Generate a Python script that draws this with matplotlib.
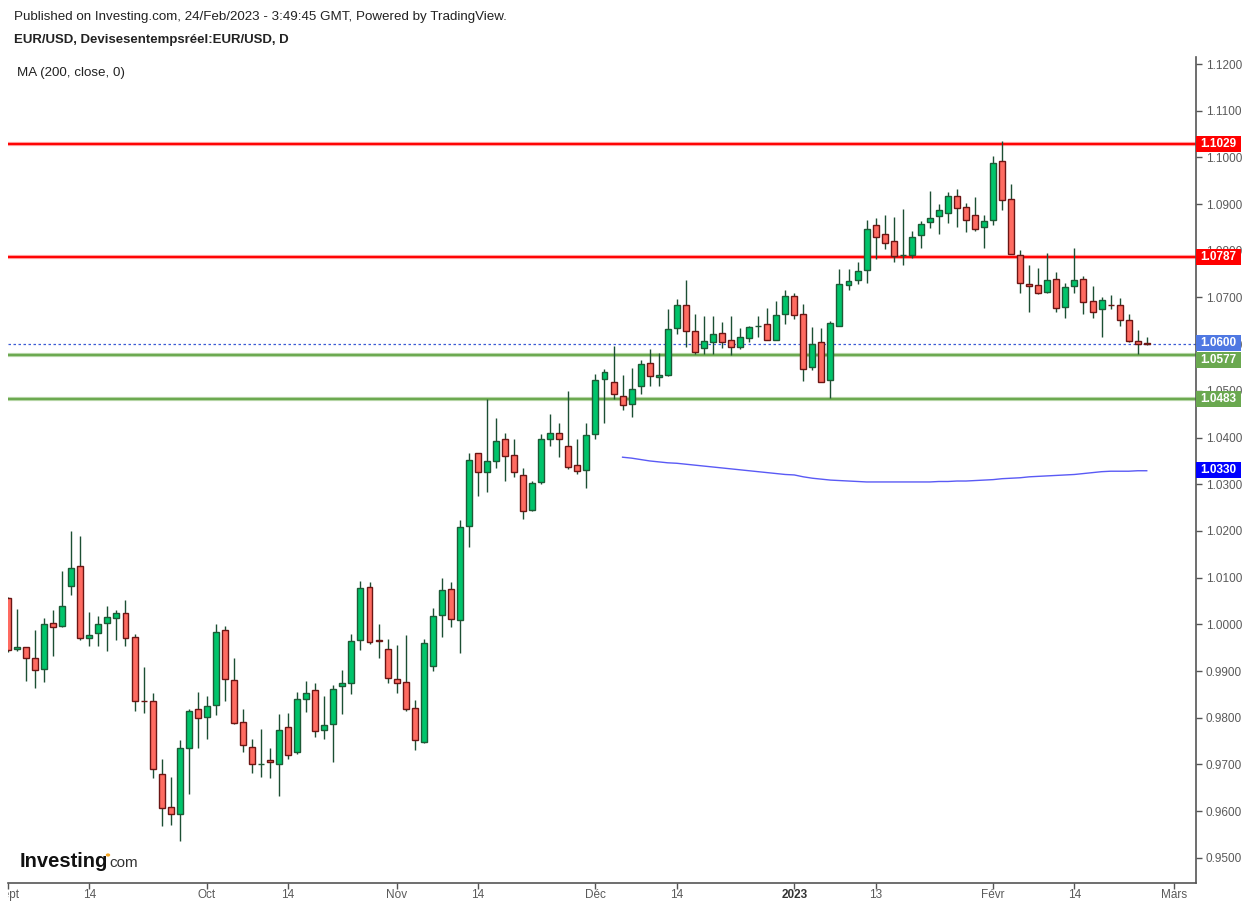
import numpy as np
import pandas as pd
import matplotlib
matplotlib.use("Agg")
import matplotlib.pyplot as plt
from matplotlib.patches import Rectangle, Circle
from matplotlib.transforms import Bbox, TransformedBbox, blended_transform_factory

plt.rcParams["font.family"] = ["Liberation Sans", "DejaVu Sans"]

# daily EUR/USD candles, 1 Sep 2022 .. 24 Feb 2023
opens = [1.0056, 0.9947, 0.9951, 0.9927, 0.9904, 1.0002, 0.9996, 1.0082, 1.0124, 0.9970,
         0.9981, 1.0002, 1.0013, 1.0024, 0.9972, 0.9837, 0.9837, 0.9679, 0.9610, 0.9595,
         0.9735, 0.9818, 0.9801, 0.9827, 0.9987, 0.9880, 0.9790, 0.9737, 0.9700, 0.9709,
         0.9702, 0.9780, 0.9726, 0.9840, 0.9859, 0.9773, 0.9786, 0.9867, 0.9874, 0.9966,
         1.0079, 0.9966, 0.9947, 0.9882, 0.9876, 0.9820, 0.9749, 0.9910, 1.0021, 1.0075,
         1.0009, 1.0210, 1.0366, 1.0326, 1.0349, 1.0396, 1.0362, 1.0319, 1.0244, 1.0304,
         1.0398, 1.0409, 1.0383, 1.0341, 1.0330, 1.0407, 1.0525, 1.0518, 1.0490, 1.0471,
         1.0510, 1.0559, 1.0529, 1.0535, 1.0634, 1.0683, 1.0628, 1.0591, 1.0604, 1.0625,
         1.0608, 1.0595, 1.0613, 1.0638, 1.0643, 1.0610, 1.0664, 1.0703, 1.0664, 1.0552,
         1.0604, 1.0523, 1.0638, 1.0726, 1.0737, 1.0758, 1.0855, 1.0835, 1.0822, 1.0790,
         1.0790, 1.0833, 1.0861, 1.0874, 1.0882, 1.0917, 1.0893, 1.0876, 1.0850, 1.0865,
         1.0992, 1.0910, 1.0790, 1.0728, 1.0726, 1.0711, 1.0739, 1.0679, 1.0724, 1.0739,
         1.0692, 1.0675, 1.0685, 1.0683, 1.0651, 1.0606, 1.0602]
highs = [1.0058, 1.0034, 0.9952, 0.9988, 1.0014, 1.0031, 1.0114, 1.0200, 1.0189, 1.0027,
         1.0019, 1.0039, 1.0031, 1.0052, 0.9979, 0.9909, 0.9853, 0.9712, 0.9673, 0.9752,
         0.9819, 0.9855, 0.9846, 1.0001, 0.9997, 0.9927, 0.9819, 0.9754, 0.9776, 0.9735,
         0.9808, 0.9810, 0.9855, 0.9879, 0.9875, 0.9846, 0.9870, 0.9902, 0.9979, 1.0093,
         1.0090, 1.0001, 0.9969, 0.9956, 0.9977, 0.9839, 0.9968, 1.0036, 1.0099, 1.0090,
         1.0223, 1.0366, 1.0368, 1.0483, 1.0442, 1.0410, 1.0396, 1.0334, 1.0308, 1.0407,
         1.0451, 1.0431, 1.0499, 1.0396, 1.0431, 1.0536, 1.0547, 1.0596, 1.0534, 1.0550,
         1.0566, 1.0590, 1.0581, 1.0675, 1.0697, 1.0737, 1.0665, 1.0660, 1.0660, 1.0648,
         1.0660, 1.0635, 1.0638, 1.0660, 1.0678, 1.0693, 1.0716, 1.0710, 1.0686, 1.0636,
         1.0634, 1.0649, 1.0762, 1.0760, 1.0777, 1.0867, 1.0870, 1.0876, 1.0872, 1.0889,
         1.0842, 1.0863, 1.0929, 1.0900, 1.0925, 1.0932, 1.0902, 1.0915, 1.0876, 1.1003,
         1.1035, 1.0943, 1.0802, 1.0770, 1.0763, 1.0795, 1.0754, 1.0730, 1.0806, 1.0746,
         1.0724, 1.0700, 1.0705, 1.0698, 1.0664, 1.0630, 1.0615]
lows = [0.9940, 0.9944, 0.9879, 0.9864, 0.9877, 0.9933, 0.9995, 1.0062, 0.9967, 0.9954,
        0.9954, 0.9943, 0.9967, 0.9954, 0.9815, 0.9811, 0.9670, 0.9569, 0.9571, 0.9537,
        0.9637, 0.9736, 0.9755, 0.9807, 0.9837, 0.9787, 0.9727, 0.9682, 0.9674, 0.9670,
        0.9633, 0.9711, 0.9722, 0.9813, 0.9758, 0.9755, 0.9706, 0.9809, 0.9850, 0.9946,
        0.9959, 0.9929, 0.9874, 0.9854, 0.9815, 0.9732, 0.9745, 0.9901, 0.9974, 0.9995,
        0.9938, 1.0165, 1.0274, 1.0283, 1.0334, 1.0306, 1.0315, 1.0225, 1.0242, 1.0300,
        1.0383, 1.0358, 1.0332, 1.0321, 1.0291, 1.0396, 1.0432, 1.0482, 1.0460, 1.0445,
        1.0493, 1.0510, 1.0510, 1.0531, 1.0621, 1.0595, 1.0578, 1.0578, 1.0580, 1.0591,
        1.0576, 1.0589, 1.0604, 1.0615, 1.0608, 1.0610, 1.0643, 1.0653, 1.0522, 1.0544,
        1.0518, 1.0485, 1.0638, 1.0715, 1.0728, 1.0732, 1.0782, 1.0803, 1.0777, 1.0769,
        1.0784, 1.0805, 1.0848, 1.0837, 1.0859, 1.0852, 1.0840, 1.0842, 1.0805, 1.0855,
        1.0888, 1.0794, 1.0710, 1.0670, 1.0708, 1.0710, 1.0668, 1.0657, 1.0709, 1.0664,
        1.0657, 1.0615, 1.0675, 1.0640, 1.0605, 1.0580, 1.0598]
closes = [0.9945, 0.9951, 0.9927, 0.9902, 1.0000, 0.9994, 1.0039, 1.0120, 0.9970, 0.9977,
          1.0000, 1.0015, 1.0024, 0.9970, 0.9837, 0.9836, 0.9690, 0.9606, 0.9593, 0.9735,
          0.9814, 0.9799, 0.9825, 0.9983, 0.9882, 0.9788, 0.9741, 0.9700, 0.9702, 0.9705,
          0.9773, 0.9720, 0.9840, 0.9852, 0.9771, 0.9784, 0.9861, 0.9874, 0.9964, 1.0078,
          0.9962, 0.9964, 0.9885, 0.9874, 0.9818, 0.9752, 0.9961, 1.0019, 1.0073, 1.0011,
          1.0208, 1.0353, 1.0326, 1.0349, 1.0392, 1.0360, 1.0326, 1.0242, 1.0302, 1.0396,
          1.0409, 1.0396, 1.0338, 1.0328, 1.0405, 1.0523, 1.0540, 1.0493, 1.0469, 1.0505,
          1.0557, 1.0531, 1.0535, 1.0632, 1.0683, 1.0628, 1.0583, 1.0606, 1.0621, 1.0604,
          1.0593, 1.0615, 1.0636, 1.0639, 1.0608, 1.0662, 1.0703, 1.0662, 1.0546, 1.0600,
          1.0520, 1.0645, 1.0728, 1.0735, 1.0756, 1.0846, 1.0829, 1.0816, 1.0788, 1.0792,
          1.0829, 1.0857, 1.0870, 1.0887, 1.0917, 1.0891, 1.0867, 1.0846, 1.0863, 1.0989,
          1.0909, 1.0794, 1.0730, 1.0724, 1.0709, 1.0737, 1.0677, 1.0722, 1.0737, 1.0690,
          1.0668, 1.0694, 1.0683, 1.0651, 1.0606, 1.0600, 1.0600]

# MA(200) as drawn, starting at candle 68 (7 Dec 2022)
ma_start = 68
ma_200 = [1.0358, 1.0356, 1.0353, 1.0350, 1.0348, 1.0346, 1.0345, 1.0343, 1.0341, 1.0339,
          1.0337, 1.0335, 1.0333, 1.0331, 1.0329, 1.0327, 1.0325, 1.0323, 1.0321, 1.0320,
          1.0316, 1.0313, 1.0311, 1.0309, 1.0308, 1.0307, 1.0306, 1.0305, 1.0305, 1.0305,
          1.0305, 1.0305, 1.0305, 1.0305, 1.0305, 1.0306, 1.0306, 1.0307, 1.0307, 1.0308,
          1.0309, 1.0310, 1.0312, 1.0313, 1.0314, 1.0316, 1.0317, 1.0318, 1.0319, 1.0320,
          1.0321, 1.0323, 1.0325, 1.0327, 1.0328, 1.0328, 1.0328, 1.0329, 1.0329]

resistance = [1.1029, 1.0787]
support = [1.0577, 1.0483]
last_price = 1.0600
ma_last = 1.0330

tick_dates = ["2022-09-01", "2022-09-14", "2022-10-03", "2022-10-14", "2022-11-01", "2022-11-14",
              "2022-12-01", "2022-12-14", "2023-01-02", "2023-01-13", "2023-02-01", "2023-02-14",
              "2023-03-01"]
tick_labels = ["Sept", "14", "Oct", "14", "Nov", "14", "Déc", "14", "2023", "13", "Févr", "14", "Mars"]

start = "2022-09-01"
dates = pd.bdate_range(start, "2023-02-24")
x = np.arange(len(dates))
o, h, l, c = map(np.array, (opens, highs, lows, closes))
up = c >= o

fig = plt.figure(figsize=(12.48, 9.07), dpi=100)
ax = fig.add_axes([8 / 1248, 24 / 907, 1188 / 1248, 826 / 907])

green, green_edge = "#00c46b", "#1d5a36"
red, red_edge = "#ff6b61", "#6b1514"
wick = "#1c4f33"

ax.vlines(x, l, h, color=wick, lw=1, zorder=2)
body_low = np.minimum(o, c)
body_h = np.maximum(np.abs(c - o), 0.00006)
ax.bar(x[up], body_h[up], bottom=body_low[up], width=0.66, color=green,
       edgecolor=green_edge, linewidth=1.0, zorder=3)
ax.bar(x[~up], body_h[~up], bottom=body_low[~up], width=0.66, color=red,
       edgecolor=red_edge, linewidth=1.0, zorder=3)

ax.plot(np.arange(ma_start, ma_start + len(ma_200)), ma_200, color="#5a5af5", lw=1.0, zorder=2)

for lvl in resistance:
    ax.axhline(lvl, color="#ff9a9a", lw=3.0, zorder=1.5)
    ax.axhline(lvl, color="#ff0000", lw=1.4, zorder=1.6)
for lvl in support:
    ax.axhline(lvl, color="#b5d5a5", lw=3.0, zorder=1.5)
    ax.axhline(lvl, color="#6aa84f", lw=1.4, zorder=1.6)
ax.axhline(last_price, color="#3b5bd6", lw=0.9, ls=(0, (2, 2)), zorder=1.7)

ax.set_xlim(0.177, 131.45)
ax.set_ylim(0.94462, 1.1215)

ax.yaxis.tick_right()
yt = np.round(np.arange(0.95, 1.1201, 0.01), 2)
ax.set_yticks(yt)
ax.set_yticklabels([f"{v:.4f}" for v in yt])
tick_pos = [np.busday_count(start, d) for d in tick_dates]
ax.set_xticks(tick_pos)
ax.set_xticklabels(tick_labels)
ax.tick_params(axis="both", labelsize=8.5, labelcolor="#5a5a5a", color="#555555",
               length=4, width=1, direction="out", pad=3)
ax.tick_params(axis="x", pad=0.5)
for s in ("top", "left"):
    ax.spines[s].set_visible(False)
for s in ("right", "bottom"):
    ax.spines[s].set_color("#555555")
    ax.spines[s].set_linewidth(1.2)

# year label bold, first month label clipped at plot edge like the original
labels = ax.get_xticklabels()
labels[8].set_fontweight("bold")
labels[8].set_color("#333333")
clip = TransformedBbox(Bbox([[8 / 1248, 0], [1, 1]]), fig.transFigure)
labels[0].set_clip_box(clip)
labels[0].set_clip_on(True)

# price tags on the right axis (value, colour, shift in px to avoid overlaps)
tags = [(1.1029, "#ff0000", 0), (1.0787, "#ff0000", 0), (1.0600, "#4f78e2", 1),
        (1.0577, "#6aa84f", -5), (1.0483, "#6aa84f", 0), (ma_last, "#0000ff", 0)]
px_per_unit = 4670.0
trans = blended_transform_factory(ax.transAxes, ax.transData)
for val, col, shift in tags:
    yc = val + shift / px_per_unit
    ax.add_patch(Rectangle((1.0, yc - 0.0017), 45 / 1188, 0.0034, transform=trans,
                           facecolor=col, edgecolor="none", clip_on=False, zorder=5))
    ax.text(1.0 + 22.5 / 1188, yc, f"{val:.4f}", transform=trans, ha="center", va="center",
            color="white", fontsize=8.5, fontweight="bold", zorder=6, clip_on=False)

fig.text(14 / 1248, 1 - 17 / 907, "Published on Investing.com, 24/Feb/2023 - 3:49:45 GMT, Powered by TradingView.",
         fontsize=9.6, color="#222222", va="center")
fig.text(14 / 1248, 1 - 40 / 907, "EUR/USD, Devisesentempsréel:EUR/USD, D",
         fontsize=9.5, fontweight="bold", color="#222222", va="center")
fig.text(17 / 1248, 1 - 73 / 907, "MA (200, close, 0)", fontsize=9.6, color="#222222", va="center")

# investing.com logo
fig.text(20 / 1248, 1 - 867 / 907, "Investing", fontsize=14.5, fontweight="bold",
         color="#111111", va="baseline")
fig.text(109 / 1248, 1 - 867 / 907, "com", fontsize=11, color="#333333", va="baseline")
fig.patches.append(Circle((108 / 1248, 1 - 855 / 907), 2.2 / 1248, transform=fig.transFigure,
                          facecolor="#f5a623", edgecolor="none"))

fig.savefig("out.png", dpi=100)
